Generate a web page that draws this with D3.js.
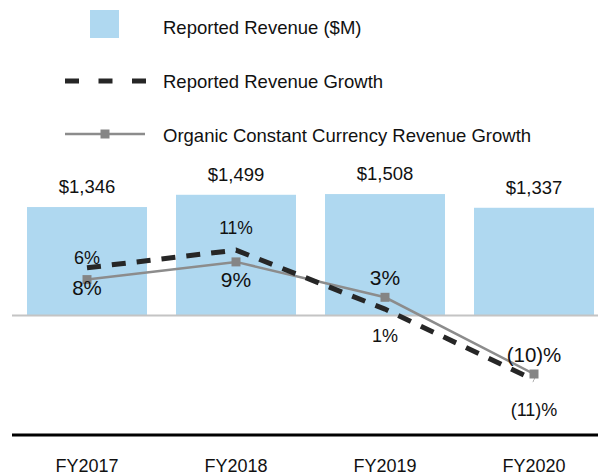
<!DOCTYPE html>
<html>
<head>
<meta charset="utf-8">
<script src="https://cdn.jsdelivr.net/npm/d3@7"></script>
<style>
  html, body { margin: 0; padding: 0; background: #fff; }
  svg { display: block; font-family: Arial, "Liberation Sans", Helvetica, sans-serif; }
</style>
</head>
<body>
<svg id="chart" width="598" height="476"></svg>
<script>
// Fiscal years shown on the x axis
const categories = ["FY2017", "FY2018", "FY2019", "FY2020"];
// Reported revenue, $M
const revenue = [1346, 1499, 1508, 1337];
// Year-over-year growth, %
const reportedGrowth = [8, 11, 1, -11];
const organicGrowth = [6, 9, 3, -10];

const legendLabels = [
  "Reported Revenue ($M)",
  "Reported Revenue Growth",
  "Organic Constant Currency Revenue Growth"
];

const fmtMoney = v => "$" + d3.format(",")(v);
const fmtPct = v => v < 0 ? "(" + Math.abs(v) + ")%" : v + "%";

const svg = d3.select("#chart");
const W = 598, H = 476;

const BLUE = "#afd8f0";
const DARK = "#262626";
const GREY_LINE = "#8c8c8c";
const GREY_MARK = "#858585";

// Scales
const x = d3.scaleBand()
  .domain(categories)
  .range([12.5, 608.5])
  .paddingInner(0.1946)
  .paddingOuter(0.0973);

const zeroY = 315;
const yRev = d3.scaleLinear().domain([0, 1500]).range([zeroY, zeroY - 120.3]);
const yPct = d3.scaleLinear().domain([0, 10]).range([zeroY, zeroY - 59]);

// Bars
svg.append("g").selectAll("rect")
  .data(categories)
  .join("rect")
  .attr("x", d => x(d))
  .attr("y", (d, i) => yRev(revenue[i]))
  .attr("width", x.bandwidth())
  .attr("height", (d, i) => yRev(0) - yRev(revenue[i]))
  .attr("fill", BLUE);

// Zero line
svg.append("line")
  .attr("x1", 12).attr("x2", W)
  .attr("y1", zeroY + 0.5).attr("y2", zeroY + 0.5)
  .attr("stroke", "#c4c4c4").attr("stroke-width", 2);

// Bar value labels
svg.append("g").selectAll("text")
  .data(categories)
  .join("text")
  .attr("x", d => x(d) + x.bandwidth() / 2)
  .attr("y", (d, i) => yRev(revenue[i]) - 14)
  .attr("text-anchor", "middle")
  .attr("font-size", 18.5)
  .attr("fill", "#111")
  .text((d, i) => fmtMoney(revenue[i]));

const cx = d => x(d) + x.bandwidth() / 2;

// Organic constant currency growth line
const organicLine = d3.line()
  .x((d, i) => cx(categories[i]))
  .y(d => yPct(d));
svg.append("path")
  .datum(organicGrowth)
  .attr("d", organicLine)
  .attr("fill", "none")
  .attr("stroke", GREY_LINE)
  .attr("stroke-width", 2.5);

// Reported growth dashed line
const reportedLine = d3.line()
  .x((d, i) => cx(categories[i]))
  .y(d => yPct(d));
svg.append("path")
  .datum(reportedGrowth)
  .attr("d", reportedLine)
  .attr("fill", "none")
  .attr("stroke", DARK)
  .attr("stroke-width", 5)
  .attr("stroke-dasharray", "14,11");

// Organic markers
const mk = 9;
svg.append("g").selectAll("rect")
  .data(organicGrowth)
  .join("rect")
  .attr("x", (d, i) => cx(categories[i]) - mk / 2)
  .attr("y", d => yPct(d) - mk / 2)
  .attr("width", mk).attr("height", mk)
  .attr("fill", GREY_MARK);

// Growth labels: vertical offset of each label centre from its point, and size
const organicLabelOffset = [-22, 18, -20, -19];
const organicLabelSize = [18, 21, 21, 20.5];
const reportedLabelOffset = [20, -22, 26, 30];
const reportedLabelSize = [20.5, 17.5, 18, 18];

function growthLabels(values, offsets, sizes) {
  svg.append("g").selectAll("text")
    .data(values)
    .join("text")
    .attr("x", (d, i) => cx(categories[i]))
    .attr("y", (d, i) => yPct(d) + offsets[i] + sizes[i] * 0.36)
    .attr("text-anchor", "middle")
    .attr("font-size", (d, i) => sizes[i])
    .attr("fill", "#111")
    .text(d => fmtPct(d));
}
growthLabels(organicGrowth, organicLabelOffset, organicLabelSize);
growthLabels(reportedGrowth, reportedLabelOffset, reportedLabelSize);

// Category axis
const axisY = 435;
svg.append("line")
  .attr("x1", 12).attr("x2", W)
  .attr("y1", axisY).attr("y2", axisY)
  .attr("stroke", "#000").attr("stroke-width", 3);

svg.append("g").selectAll("text")
  .data(categories)
  .join("text")
  .attr("x", d => cx(d))
  .attr("y", 472)
  .attr("text-anchor", "middle")
  .attr("font-size", 18)
  .attr("fill", "#111")
  .text(d => d);

// Legend
const legend = svg.append("g");
const legendTextX = 163;
const legendRowY = [27, 81, 135];

legend.append("rect")
  .attr("x", 90).attr("y", legendRowY[0] - 17)
  .attr("width", 29).attr("height", 28)
  .attr("fill", BLUE);

legend.append("line")
  .attr("x1", 65).attr("x2", 146)
  .attr("y1", legendRowY[1]).attr("y2", legendRowY[1])
  .attr("stroke", DARK).attr("stroke-width", 5)
  .attr("stroke-dasharray", "14,19.5");

legend.append("line")
  .attr("x1", 65).attr("x2", 145)
  .attr("y1", legendRowY[2] - 1).attr("y2", legendRowY[2] - 1)
  .attr("stroke", GREY_LINE).attr("stroke-width", 2.5);
legend.append("rect")
  .attr("x", 105 - mk / 2).attr("y", legendRowY[2] - 1 - mk / 2)
  .attr("width", mk).attr("height", mk)
  .attr("fill", GREY_MARK);

legend.selectAll("text")
  .data(legendLabels)
  .join("text")
  .attr("x", legendTextX)
  .attr("y", (d, i) => legendRowY[i] + 6.6)
  .attr("font-size", 18.5)
  .attr("fill", "#111")
  .text(d => d);
</script>
</body>
</html>
